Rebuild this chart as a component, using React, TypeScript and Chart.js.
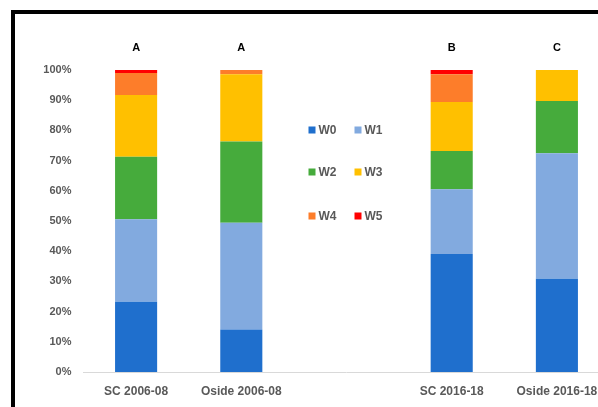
import React, { useEffect, useRef } from "react";
import { Chart, registerables } from "chart.js";

Chart.register(...registerables);

const categories = ["SC 2006-08", "Oside 2006-08", "", "SC 2016-18", "Oside 2016-18"];
const groupLetters = ["A", "A", "", "B", "C"];
const seriesNames = ["W0", "W1", "W2", "W3", "W4", "W5"];
const w0 = [23.3, 14.1, null, 39.1, 30.9];
const w1 = [27.3, 35.3, null, 21.4, 41.5];
const w2 = [20.7, 26.9, null, 12.7, 17.3];
const w3 = [20.4, 22.3, null, 16.2, 10.3];
const w4 = [7.3, 1.4, null, 9.2, 0];
const w5 = [1.0, 0, null, 1.4, 0];
const seriesColors = ["#1F6FCD", "#82AADF", "#46AB3C", "#FFC000", "#FD7D2A", "#FF0000"];

const CANVAS_W = 620;
const CANVAS_H = 400;
const FONT = "'Liberation Sans', Arial, sans-serif";

const overlayPlugin = {
  id: "overlay",
  afterDraw(chart: any) {
    const { ctx, chartArea, scales } = chart;
    const xs = scales.x;
    ctx.save();
    // group letters
    ctx.fillStyle = "#000000";
    ctx.font = `bold 11px ${FONT}`;
    ctx.textAlign = "center";
    ctx.textBaseline = "middle";
    groupLetters.forEach((l, i) => {
      if (!l) return;
      ctx.fillText(l, xs.getPixelForValue(i), chartArea.top - 22);
    });
    // legend in the empty slot
    const cx = xs.getPixelForValue(2);
    const rows = [60, 102, 146];
    ctx.font = `bold 12px ${FONT}`;
    ctx.textAlign = "left";
    seriesNames.forEach((name, i) => {
      const col = i % 2;
      const row = Math.floor(i / 2);
      const mx = cx + (col === 0 ? -38 : 8);
      const my = chartArea.top + rows[row];
      ctx.fillStyle = seriesColors[i];
      ctx.fillRect(mx, my - 3.5, 7, 7);
      ctx.fillStyle = "#595959";
      ctx.fillText(name, mx + 10, my + 0.5);
    });
    ctx.restore();
  },
};

export default function App() {
  const ref = useRef<HTMLCanvasElement | null>(null);
  useEffect(() => {
    if (!ref.current) return;
    const all = [w0, w1, w2, w3, w4, w5];
    const chart = new Chart(ref.current, {
      type: "bar",
      data: {
        labels: categories,
        datasets: all.map((d, i) => ({
          label: seriesNames[i],
          data: d as any,
          backgroundColor: seriesColors[i],
          borderWidth: 0,
          categoryPercentage: 1,
          barPercentage: 0.4,
        })),
      },
      options: {
        responsive: false,
        animation: false,
        devicePixelRatio: 1,
        layout: { padding: { top: 56, right: 25.5, left: 0, bottom: 0 } },
        plugins: { legend: { display: false }, tooltip: { enabled: false } },
        scales: {
          x: {
            stacked: true,
            grid: { display: true, color: "rgba(0,0,0,0)", drawTicks: false },
            border: { display: true, color: "#D9D9D9", width: 1 },
            ticks: {
              color: "#595959",
              font: { family: FONT, size: 12, weight: "bold" },
              padding: 12,
              maxRotation: 0,
              autoSkip: false,
            },
            afterFit(scale: any) {
              scale.height = CANVAS_H - 358;
            },
          },
          y: {
            stacked: true,
            min: 0,
            max: 100,
            grid: { display: false },
            border: { display: false },
            ticks: {
              stepSize: 10,
              color: "#595959",
              font: { family: FONT, size: 11, weight: "bold" },
              padding: 4,
              callback: (v: any) => `${v}%`,
            },
            afterFit(scale: any) {
              scale.width = 68.5;
            },
          },
        },
      },
      plugins: [overlayPlugin],
    });
    return () => chart.destroy();
  }, []);
  return (
    <div style={{ position: "fixed", left: 0, top: 0, width: "100vw", height: "100vh", overflow: "hidden", background: "#fff" }}>
      <div
        style={{
          position: "absolute",
          left: 11,
          top: 10,
          width: CANVAS_W + 8,
          height: CANVAS_H + 8,
          border: "4px solid #000",
          background: "#fff",
        }}
      >
        <canvas ref={ref} width={CANVAS_W} height={CANVAS_H} style={{ display: "block", width: CANVAS_W, height: CANVAS_H }} />
      </div>
    </div>
  );
}
